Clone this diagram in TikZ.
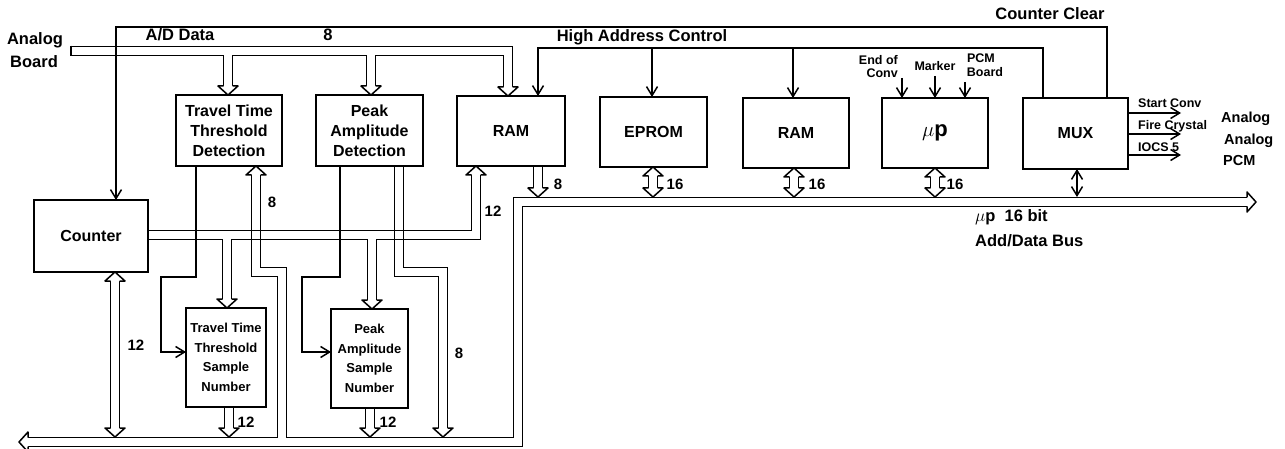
\documentclass[tikz,border=0pt]{standalone}
\usepackage{fontspec}
\setmainfont{Liberation Sans}
\usetikzlibrary{arrows.meta}

% hollow double-line buses: drawn once in black (outer) and once in white (inner)
\newcommand\grpAD[1]{%
  \draw[#1] (adL) -- (adR) -- (adRb);
  \draw[#1] (adA) -- (adAb);
  \draw[#1] (adB) -- (adBb);
}
\newcommand\grpCNT[1]{%
  \draw[#1] (cnA) -- (cnB) -- (cnC);
  \draw[#1] (cnD) -- (cnDb);
  \draw[#1] (cnE) -- (cnEb);
}
\newcommand\grpBUS[1]{%
  \draw[#1] (bsR) -- (bsC1) -- (bsC2) -- (bsL);
  \draw[#1] (t8a) -- (t8b) -- (t8c) -- (t8d);
  \draw[#1] (p8a) -- (p8b) -- (p8c) -- (p8d);
  \draw[#1] (cbA) -- (cbB);
  \draw[#1] (tsA) -- (tsB);
  \draw[#1] (psA) -- (psB);
  \draw[#1] (r1A) -- (r1B);
  \draw[#1] (epA) -- (epB);
  \draw[#1] (r2A) -- (r2B);
  \draw[#1] (upA) -- (upB);
}

\begin{document}
\begin{tikzpicture}[x=1pt,y=-1pt,
  wall/.style={line width=1.5pt},
  busout/.style={line width=10.5pt, black, line join=miter, line cap=butt},
  busin/.style={line width=7.5pt, white, line join=miter, line cap=butt},
  sig/.style={line width=1.5pt, -{Straight Barb[length=9pt,width=11pt]}},
  sigb/.style={line width=1.5pt, {Straight Barb[length=9pt,width=11pt]}-{Straight Barb[length=9pt,width=11pt]}},
  blk/.style={draw, line width=1.5pt, align=center, inner sep=0pt, font=\fontsize{16}{20}\selectfont\bfseries},
  sblk/.style={blk, font=\fontsize{13}{19.5}\selectfont\bfseries},
  lbl/.style={inner sep=0pt, font=\fontsize{16.5}{20}\selectfont\bfseries},
  rlbl/.style={inner sep=0pt, font=\fontsize{14.5}{18}\selectfont\bfseries},
  slbl/.style={inner sep=0pt, font=\fontsize{12.5}{14}\selectfont\bfseries},
  num/.style={inner sep=0pt, font=\fontsize{15}{18}\selectfont\bfseries},
  hh/.pic={
    \fill[white] (-4.5,-9) -- (-10,-9) -- (0,0) -- (10,-9) -- (4.5,-9) -- cycle;
    \draw[line width=1.5pt, line join=round] (-4.5,-9) -- (-10,-9) -- (0,0) -- (10,-9) -- (4.5,-9);
  }
]
\useasboundingbox (0,0) rectangle (1285,449);
\fill[white] (0,0) rectangle (1285,449);

% ---------- coordinates of the buses ----------
% A/D data bus
\coordinate (adL) at (70,51);   \coordinate (adR) at (508,51);  \coordinate (adRb) at (508,87);
\coordinate (adA) at (228,51);  \coordinate (adAb) at (228,86);
\coordinate (adB) at (371,51);  \coordinate (adBb) at (371,86);
% counter bus
\coordinate (cnA) at (148,235); \coordinate (cnB) at (476,235); \coordinate (cnC) at (476,175);
\coordinate (cnD) at (227,235); \coordinate (cnDb) at (227,299);
\coordinate (cnE) at (372,235); \coordinate (cnEb) at (372,300);
% micro-processor bus
\coordinate (bsR) at (1247,202); \coordinate (bsC1) at (518,202);
\coordinate (bsC2) at (518,442); \coordinate (bsL) at (28,442);
\coordinate (t8a) at (282,442); \coordinate (t8b) at (282,272); \coordinate (t8c) at (256,272); \coordinate (t8d) at (256,175);
\coordinate (p8a) at (399,166); \coordinate (p8b) at (399,272); \coordinate (p8c) at (443,272); \coordinate (p8d) at (443,428);
\coordinate (cbA) at (115,281); \coordinate (cbB) at (115,428);
\coordinate (tsA) at (229,407); \coordinate (tsB) at (229,428);
\coordinate (psA) at (370,408); \coordinate (psB) at (370,428);
\coordinate (r1A) at (538,166); \coordinate (r1B) at (538,188);
\coordinate (epA) at (653,176); \coordinate (epB) at (653,188);
\coordinate (r2A) at (794,177); \coordinate (r2B) at (794,188);
\coordinate (upA) at (935,177); \coordinate (upB) at (935,188);

% ---------- draw buses ----------
\grpAD{busout}\grpAD{busin}
\draw[wall] (70.75,45.75) -- (70.75,56.25);
\grpCNT{busout}\grpCNT{busin}
\grpBUS{busout}\grpBUS{busin}
% counter bus walls over the two 8-bit crossings
\draw[wall] (252,230.5) -- (260,230.5) (252,239.5) -- (260,239.5);
\draw[wall] (395,230.5) -- (403,230.5) (395,239.5) -- (403,239.5);

% ---------- hollow arrow heads ----------
\pic at (508,96) {hh};
\pic at (228,95) {hh};
\pic at (371,95) {hh};
\pic[rotate=180] at (476,166) {hh};
\pic at (227,308) {hh};
\pic at (372,309) {hh};
\pic[rotate=90] at (1256,202) {hh};
\pic[rotate=-90] at (19,442) {hh};
\pic[rotate=180] at (256,166) {hh};
\pic at (443,437) {hh};
\pic[rotate=180] at (115,272) {hh};
\pic at (115,437) {hh};
\pic at (229,437) {hh};
\pic at (370,437) {hh};
\pic at (538,197) {hh};
\pic[rotate=180] at (653,167) {hh};
\pic at (653,197) {hh};
\pic[rotate=180] at (794,168) {hh};
\pic at (794,197) {hh};
\pic[rotate=180] at (935,168) {hh};
\pic at (935,197) {hh};

% ---------- boxes ----------
\node[blk, minimum width=106pt, minimum height=71pt] (tttd) at (229,130.5) {Travel Time\\Threshold\\Detection};
\node[blk, minimum width=107pt, minimum height=71pt] (pad) at (369.5,130.5) {Peak\\Amplitude\\Detection};
\node[blk, minimum width=108pt, minimum height=70pt] (ram1) at (511,131) {RAM};
\node[blk, minimum width=107pt, minimum height=70pt] (eprom) at (653.5,132) {EPROM};
\node[blk, minimum width=106pt, minimum height=70pt] (ram2) at (796,133) {RAM};
\node[blk, minimum width=106pt, minimum height=70pt] (up) at (935,133) {\fontsize{22}{24}\selectfont$\mu$p};
\node[blk, minimum width=105pt, minimum height=71pt] (mux) at (1075.5,133.5) {MUX};
\node[blk, minimum width=114pt, minimum height=72pt] (counter) at (91,236) {Counter};
\node[sblk, minimum width=80pt, minimum height=99pt] (tttsn) at (226,357.5) {Travel Time\\Threshold\\Sample\\Number};
\node[sblk, minimum width=77pt, minimum height=99pt] (pasn) at (369.5,358.5) {Peak\\Amplitude\\Sample\\Number};

% ---------- single-line signals ----------
\coordinate (ccM) at (1107,98);  \coordinate (ccT) at (116,27);  \coordinate (ccC) at (116,200);
\draw[sig] (ccM) |- (ccT) -- (ccC);
\coordinate (haM) at (1043,98);  \coordinate (haT) at (538,48);  \coordinate (haR) at (538,96);
\draw[sig] (haM) |- (haT) -- (haR);
\coordinate (haE) at (652,48); \coordinate (haEb) at (652,97);
\coordinate (haF) at (793,48); \coordinate (haFb) at (793,98);
\draw[sig] (haE) -- (haEb);
\draw[sig] (haF) -- (haFb);
\coordinate (ecA) at (902,78); \coordinate (ecB) at (902,98);
\coordinate (mkA) at (935,76); \coordinate (mkB) at (935,98);
\coordinate (pcA) at (965,82); \coordinate (pcB) at (965,98);
\draw[sig] (ecA) -- (ecB);
\draw[sig] (mkA) -- (mkB);
\draw[sig] (pcA) -- (pcB);
\coordinate (o1A) at (1128,113); \coordinate (o1B) at (1181,113);
\coordinate (o2A) at (1128,134); \coordinate (o2B) at (1181,134);
\coordinate (o3A) at (1128,155); \coordinate (o3B) at (1181,155);
\draw[sig] (o1A) -- (o1B);
\draw[sig] (o2A) -- (o2B);
\draw[sig] (o3A) -- (o3B);
\coordinate (mxA) at (1077,169); \coordinate (mxB) at (1077,197);
\draw[sigb] (mxA) -- (mxB);
\coordinate (tcA) at (196,166); \coordinate (tcB) at (161,277); \coordinate (tcC) at (186,352);
\draw[sig] (tcA) |- (tcB) |- (tcC);
\coordinate (pcA2) at (340,166); \coordinate (pcB2) at (302,277); \coordinate (pcC2) at (331,352);
\draw[sig] (pcA2) |- (pcB2) |- (pcC2);

% ---------- labels ----------
\node[lbl, anchor=base] (lAn) at (35,45) {Analog};
\node[lbl, anchor=base] (lBo) at (34,68) {Board};
\node[lbl, anchor=base] (lAD) at (180,41) {A/D Data};
\node[lbl, anchor=base] (l8a) at (328,41) {8};
\node[lbl, anchor=base] (lHA) at (642,42) {High Address Control};
\node[lbl, anchor=base] (lCC) at (1050,20) {Counter Clear};
\node[slbl, anchor=base east] (lE1) at (898,65) {End of};
\node[slbl, anchor=base east] (lE2) at (898,78) {Conv};
\node[slbl, anchor=base] (lMk) at (935,71) {Marker};
\node[slbl, anchor=base] (lP1) at (981,63) {PCM};
\node[slbl, anchor=base] (lP2) at (985,77) {Board};
\node[slbl, anchor=base west] (lSC) at (1138,108) {Start Conv};
\node[slbl, anchor=base west] (lFC) at (1138,130) {Fire Crystal};
\node[slbl, anchor=base west] (lIO) at (1138,152) {IOCS 5};
\node[rlbl, anchor=base west] (lA1) at (1221,123) {Analog};
\node[rlbl, anchor=base west] (lA2) at (1224,145) {Analog};
\node[rlbl, anchor=base west] (lPC) at (1223,166) {PCM};
\node[num, anchor=base] (n1) at (272,208) {8};
\node[num, anchor=base] (n2) at (493,217) {12};
\node[num, anchor=base] (n3) at (558,190) {8};
\node[num, anchor=base] (n4) at (675,190) {16};
\node[num, anchor=base] (n5) at (817,190) {16};
\node[num, anchor=base] (n6) at (955,190) {16};
\node[num, anchor=base] (n7) at (136,350) {12};
\node[num, anchor=base] (n8) at (246,427) {12};
\node[num, anchor=base] (n9) at (388,427) {12};
\node[num, anchor=base] (n10) at (459,358) {8};
\node[lbl, anchor=base west] (lB1) at (975,222) {$\mu$p\ \ 16 bit};
\node[lbl, anchor=base west] (lB2) at (975,247) {Add/Data Bus};
\end{tikzpicture}
\end{document}
